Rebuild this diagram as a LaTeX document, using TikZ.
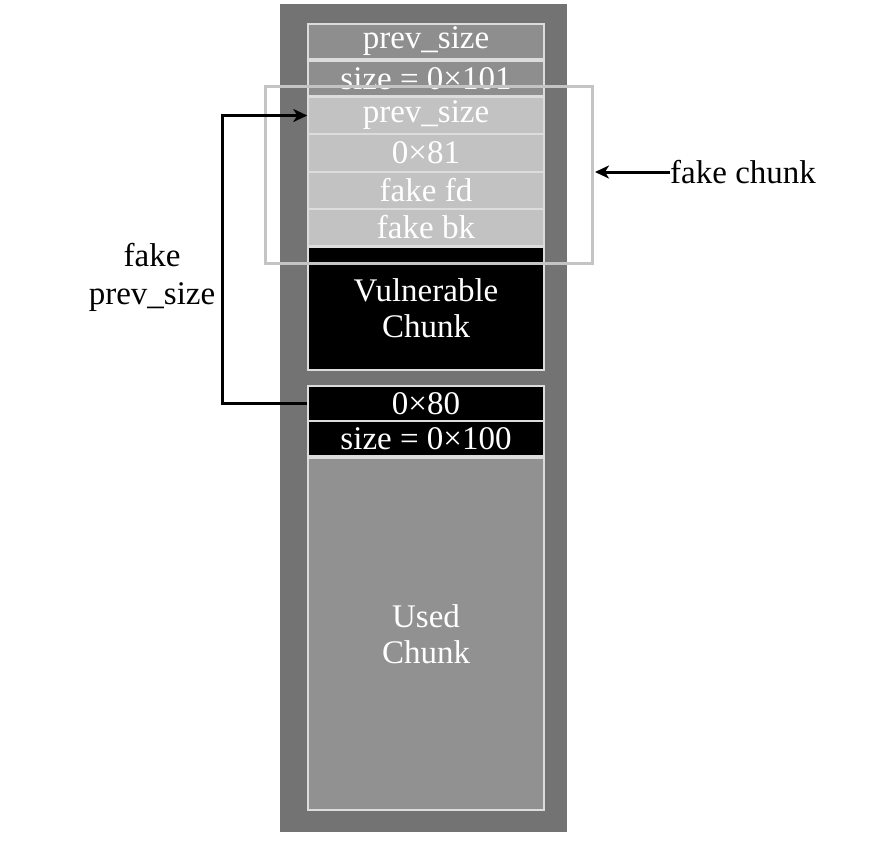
\documentclass[tikz,border=0pt]{standalone}
\usepackage{fontspec}
\setmainfont{Liberation Serif}
\usetikzlibrary{arrows.meta}
\definecolor{outergray}{HTML}{737373}
\definecolor{midgray}{HTML}{8E8E8E}
\definecolor{lightgray}{HTML}{C2C2C2}
\definecolor{usedgray}{HTML}{919191}
\definecolor{edgegray}{HTML}{DCDCDC}
\definecolor{fakegray}{HTML}{C4C4C4}
\tikzset{
  cell/.style={draw=edgegray, line width=1.5pt, minimum width=236pt, inner sep=0pt,
    text=white, font=\fontsize{33}{36}\selectfont, align=center},
  lbl/.style={text=black, font=\fontsize{33}{38}\selectfont, align=center, inner sep=0pt},
  arr/.style={line width=3pt, -{Stealth[length=14pt,width=13pt,inset=4pt]}}
}
\begin{document}
\begin{tikzpicture}[x=1pt,y=-1pt]
\useasboundingbox (0,0) rectangle (890,844);
\fill[outergray] (280,4) rectangle (567,832);
\node[cell, fill=midgray, minimum height=35pt] (b1) at (426,41.5) {prev\_size};
\node[cell, fill=midgray, minimum height=35pt] (b2) at (426,78.5) {size = 0×101};
\node[cell, fill=lightgray, minimum height=37pt] (b3) at (426,115.5) {prev\_size};
\node[cell, fill=lightgray, minimum height=38pt] (b4) at (426,153) {0×81};
\node[cell, fill=lightgray, minimum height=37pt] (b5) at (426,190.5) {fake fd};
\node[cell, fill=lightgray, minimum height=37pt] (b6) at (426,227.5) {fake bk};
\node[cell, fill=black, minimum height=123pt] (vul) at (426,308.5) {Vulnerable\\Chunk};
\node[cell, fill=black, minimum height=35pt] (b80) at (426,403.5) {0×80};
\node[cell, fill=black, minimum height=35pt] (b100) at (426,438.5) {size = 0×100};
\node[cell, fill=usedgray, minimum height=352pt] (used) at (426,634) {Used\\Chunk};
\node[draw=fakegray, line width=3pt, minimum width=327pt, minimum height=177pt, inner sep=0pt] (fk) at (428.5,174.5) {};
\node[lbl, anchor=west] (fc) at (670,172) {fake chunk};
\draw[arr] (fc.west) -- ([xshift=1.5pt]fk.east |- fc.west);
\node[lbl] (fps) at (152,277) {fake\\prev\_size};
\coordinate (lc) at (222,403.5);
\draw[arr] (b80.west) -- (lc) |- (b3.west);
\end{tikzpicture}
\end{document}
